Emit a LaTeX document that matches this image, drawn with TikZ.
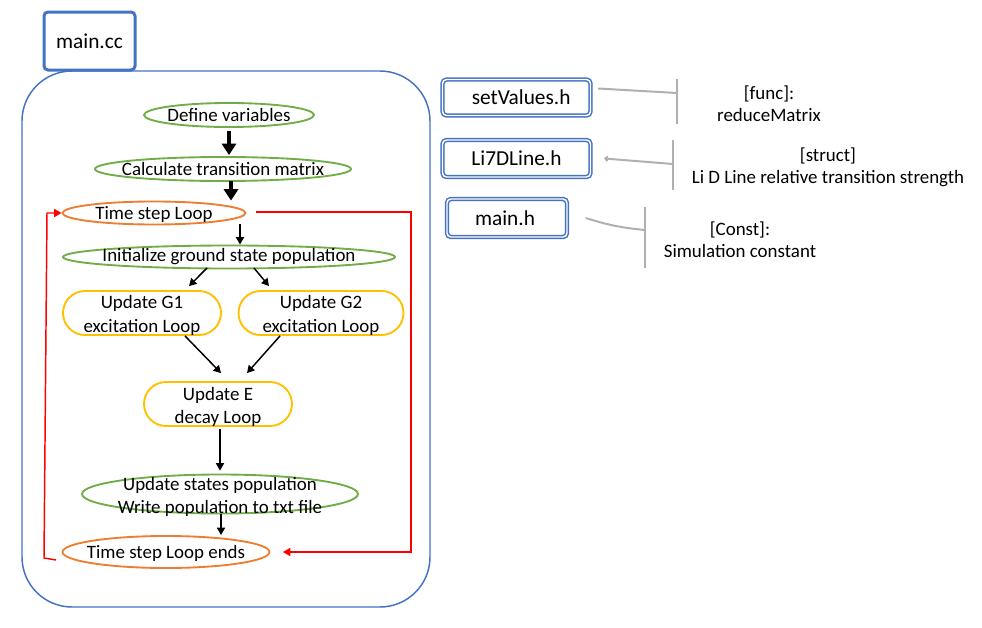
\documentclass[tikz,border=0pt]{standalone}
\usepackage{fontspec}
\setmainfont{Carlito}
\usetikzlibrary{shapes.geometric,arrows.meta,calc}
\definecolor{cblue}{HTML}{4472C4}
\definecolor{cgreen}{HTML}{70AD47}
\definecolor{corange}{HTML}{ED7D31}
\definecolor{cyellow}{HTML}{FFC000}
\definecolor{cred}{HTML}{FF0000}
\definecolor{cgray}{HTML}{B0B0B0}
\begin{document}
\begin{tikzpicture}[x=0.75pt,y=-0.75pt,
  txt/.style={font=\fontsize{14.2}{17.5}\selectfont, align=center, inner sep=0pt},
  ell/.style={ellipse, draw, line width=1.4pt, inner sep=0pt},
  greenell/.style={ell, draw=cgreen},
  orangeell/.style={ell, draw=corange},
  stadium/.style={rectangle, draw=cyellow, line width=1.4pt, rounded corners=16.5pt,
    minimum height=33pt, inner sep=0pt},
  hbox/.style={rectangle, draw=cblue, double=white, double distance=1.1pt, line width=1.1pt,
    rounded corners=3pt, inner sep=0pt, font=\fontsize{16}{19}\selectfont},
  desc/.style={font=\fontsize{14.2}{16.5}\selectfont, align=center, inner sep=0pt},
  thin arrow/.style={line width=1.1pt, -{Triangle[length=5.5pt,width=6pt]}},
  thick arrow/.style={line width=3pt, -{Triangle[length=8.5pt,width=10.5pt]}},
  red arrow/.style={draw=cred, line width=1.1pt, -{Triangle[length=5.5pt,width=6pt]}},
  grayline/.style={draw=cgray, line width=1.5pt}
]
\useasboundingbox (0,0) rectangle (982,628);

% main container
\node[draw=cblue, line width=2.25pt, rounded corners=3pt, minimum width=68.25pt,
  minimum height=43.5pt, inner sep=0pt, font=\fontsize{16}{19}\selectfont] (maincc) at (89.5,41) {main.cc};
\draw[cblue, line width=1.1pt, rounded corners=37.5pt] (22,71) rectangle (430,607);

% flow nodes
\node[greenell, minimum width=127.5pt, minimum height=18pt,
  label={[txt]center:Define variables}] (def) at (229,115) {};
\node[greenell, minimum width=192pt, minimum height=18pt,
  label={[txt]center:Calculate transition matrix}] (calc) at (223,169) {};
\node[orangeell, minimum width=137.25pt, minimum height=17.25pt,
  label={[txt, yshift=-1pt]center:Time step Loop}] (ts) at (154,213) {};
\node[greenell, minimum width=249pt, minimum height=17.25pt,
  label={[txt]center:Initialize ground state population}] (init) at (229,257) {};
\node[stadium, minimum width=118.5pt,
  label={[txt, yshift=-1.8pt]center:Update G1\\excitation Loop}] (g1) at (142,313) {};
\node[stadium, minimum width=123.75pt,
  label={[txt, yshift=-1.8pt]center:Update G2\\excitation Loop}] (g2) at (321,313) {};
\node[stadium, minimum width=111pt,
  label={[txt, yshift=-2pt]center:Update E\\decay Loop}] (e) at (218,404) {};
\node[greenell, minimum width=207pt, minimum height=29.25pt,
  label={[txt, yshift=-2pt]center:Update states population\\Write population to txt file}] (ups) at (220,494) {};
\node[orangeell, minimum width=155.25pt, minimum height=24pt,
  label={[txt, yshift=-1.2pt]center:Time step Loop ends}] (ends) at (166,552) {};

% black arrows
\draw[thick arrow] ($(def.south)+(0,3)$) -- ($(calc.north)+(6,-1)$);
\draw[thick arrow] ($(calc.south)+(8,-1)$) -- ($(ts.north)+(77,0)$);
\draw[thin arrow] ($(ts.center)+(86,11)$) -- ($(init.north)+(11,0)$);
\draw[thin arrow] ($(init.center)+(-22,11)$) -- ($(g1.north)+(47,-4)$);
\draw[thin arrow] ($(init.center)+(25,11)$) -- ($(g2.north)+(-52,-4)$);
\draw[thin arrow] ($(g1.south)+(43,0)$) -- ($(e.north)+(3,-8)$);
\draw[thin arrow] ($(g2.south)+(-41,0)$) -- ($(e.north)+(29,-8)$);
\draw[thin arrow] ($(e.south)+(2,2)$) -- ($(ups.north)+(0,-3)$);
\draw[thin arrow] ($(ups.south)+(1,0)$) -- ($(ends.north)+(55,0)$);

% red loop connectors
\coordinate (rtop) at (411,212);
\draw[red arrow] ($(ts.east)+(9.5,-1)$) -- (rtop) |- ($(ends.east)+(12.5,0)$);
\coordinate (lbot) at (44,558);
\coordinate (ltop) at (47,213);
\draw[red arrow] ($(ends.west)+(-5.5,8)$) -- (lbot) -- (ltop) -- (ts.west);

% header files
\node[hbox, minimum width=111pt, minimum height=27pt] (sv) at (516.5,97.5) {\hspace*{7pt}setValues.h};
\node[hbox, minimum width=111pt, minimum height=27.75pt] (li) at (516.5,158.5) {Li7DLine.h};
\node[hbox, minimum width=90pt, minimum height=28.5pt] (mh) at (507,218) {main.h\hspace*{3pt}};

% descriptions
\node[desc] (dsv) at (769,103.5) {[func]:\\reduceMatrix};
\node[desc] (dli) at (828,167) {[struct]\\Li D Line relative transition strength};
\node[desc] (dmh) at (740,240) {[Const]:\\Simulation constant};

% gray brackets
\coordinate (b1t) at (677,79); \coordinate (b1b) at (677,124);
\coordinate (b2t) at (673,140); \coordinate (b2b) at (673,190);
\coordinate (b3t) at (645,207); \coordinate (b3b) at (645,268);
\draw[grayline] (b1t) -- (b1b);
\draw[grayline] (b2t) -- (b2b);
\draw[grayline] (b3t) -- (b3b);
\draw[grayline] ($(sv.east)+(7,-9)$) -- (b1t |- 0,93);
\draw[grayline, {Straight Barb[length=1.5pt,width=3.5pt]}-] ($(li.east)+(13,0)$) -- (b2t |- 0,164);
\draw[grayline] ($(mh.east)+(18,0)$) to[bend right=6] (b3t |- 0,230);
\end{tikzpicture}
\end{document}
